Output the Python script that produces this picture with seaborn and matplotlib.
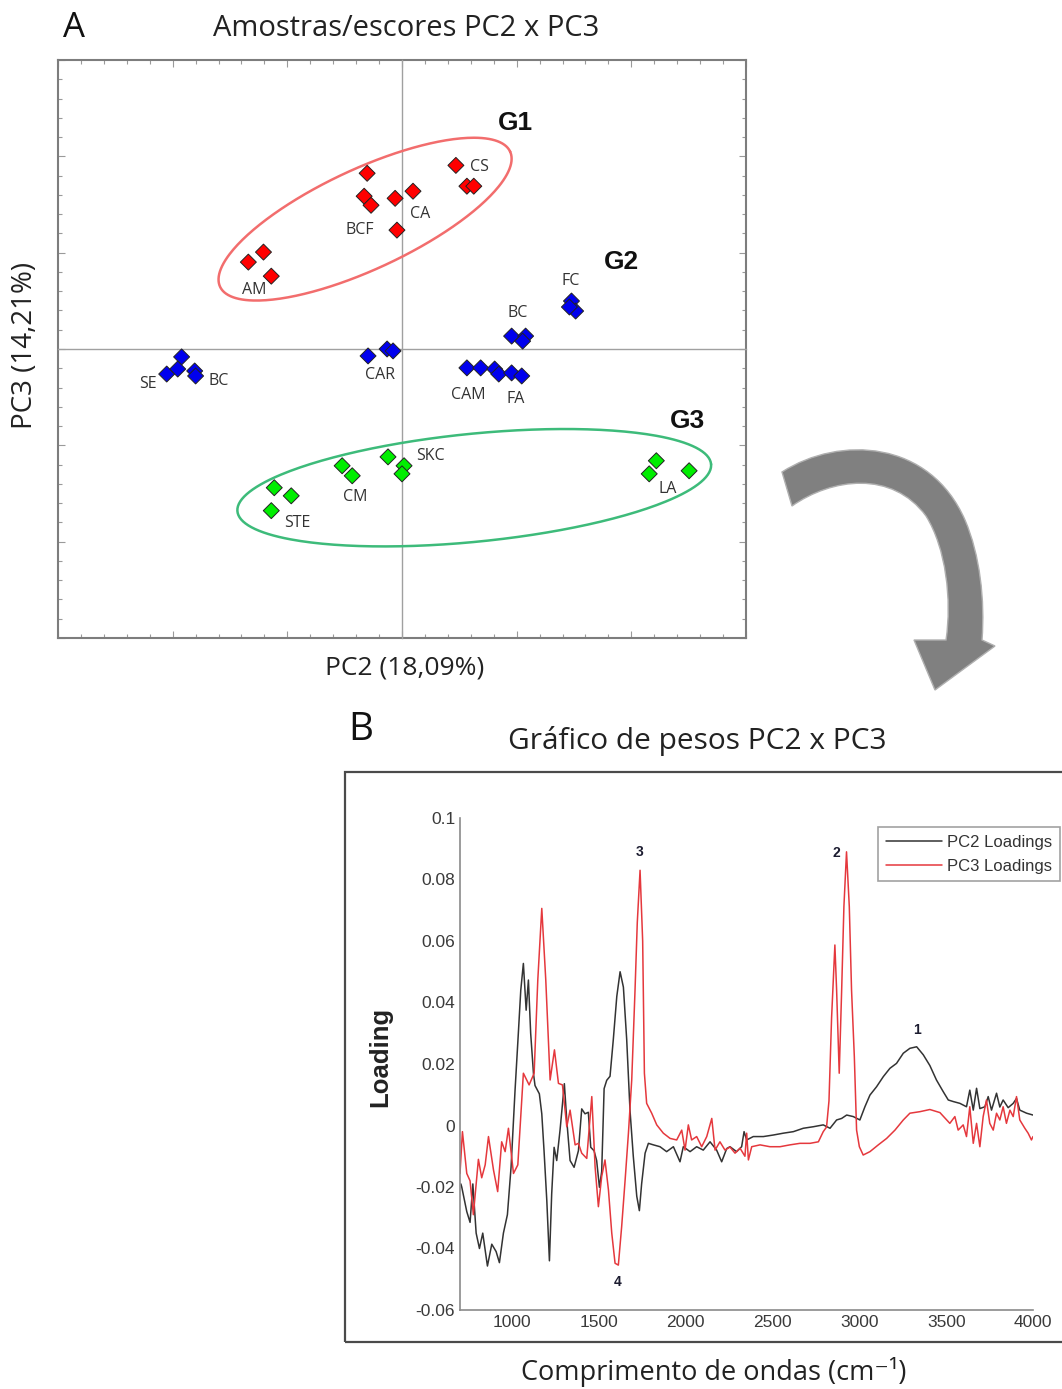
import numpy as np
import pandas as pd
import matplotlib
matplotlib.use("Agg")
import matplotlib.pyplot as plt
import seaborn as sns
from matplotlib.path import Path
from matplotlib.patches import PathPatch, Rectangle
from matplotlib.ticker import MultipleLocator
from matplotlib.lines import Line2D

sns.set_style("white")
plt.rcParams['font.family'] = ['Open Sans', 'DejaVu Sans']

# ---------------- Panel A data (scores) ----------------
g1_pc2 = [-1.52, -1.65, -1.35, -0.30, 0.48, -0.22, -6.70, -6.04, -5.70, 2.35, 2.83, 3.13]
g1_pc3 = [9.12, 7.93, 7.46, 7.82, 8.19, 6.17, 4.51, 5.03, 3.78, 9.53, 8.45, 8.45]
g2_pc2 = [4.78, 5.39, 5.26, 7.39, 7.57, 7.30, 2.83, 3.43, 4.04, 4.22, 4.78, 5.22,
          -9.61, -10.26, -9.78, -9.04, -9.00, -1.48, -0.65, -0.39]
g2_pc3 = [0.67, 0.67, 0.41, 2.49, 1.97, 2.18, -0.98, -0.98, -1.04, -1.30, -1.24, -1.40,
          -0.41, -1.30, -1.04, -1.14, -1.40, -0.36, 0.0, -0.10]
g3_pc2 = [-5.57, -4.83, -5.70, -2.61, -2.17, -0.61, 0.09, 0.0, 11.09, 10.78, 12.52]
g3_pc3 = [-7.20, -7.62, -8.39, -6.06, -6.58, -5.60, -6.06, -6.48, -5.80, -6.48, -6.32]

sample_labels = ["CS", "CA", "BCF", "AM", "FC", "BC", "CAM", "FA", "SE", "BC", "CAR",
                 "SKC", "CM", "STE", "LA"]
label_pc2 = [3.39, 0.78, -1.83, -6.43, 7.35, 5.04, 2.87, 4.96, -11.09, -8.0, -0.96,
             1.26, -2.04, -4.57, 11.57]
label_pc3 = [9.43, 6.99, 6.17, 3.06, 3.52, 1.87, -2.38, -2.59, -1.81, -1.66, -1.35,
             -5.54, -7.67, -9.02, -7.25]
group_names = ["G1", "G2", "G3"]
group_pc2 = [4.96, 9.57, 12.43]
group_pc3 = [11.71, 4.51, -3.73]

# ---------------- Panel B data (loadings) ----------------
pc3_wn = [700, 714, 739, 758, 777, 806, 825, 845, 864, 893, 917, 940, 960, 979, 1008, 1033,
          1065, 1098, 1127, 1148, 1171, 1194, 1219, 1244, 1267, 1290, 1315, 1334, 1363, 1382,
          1401, 1430, 1459, 1478, 1497, 1516, 1535, 1555, 1574, 1593, 1612, 1631, 1651, 1670,
          1689, 1708, 1721, 1737, 1752, 1762, 1775, 1804, 1833, 1871, 1910, 1948, 1977, 1996,
          2015, 2034, 2063, 2092, 2121, 2150, 2169, 2197, 2226, 2255, 2284, 2313, 2341, 2351,
          2361, 2380, 2428, 2485, 2543, 2600, 2658, 2716, 2764, 2792, 2811, 2825, 2840, 2850,
          2859, 2869, 2884, 2898, 2911, 2926, 2942, 2955, 2971, 2984, 3000, 3022, 3061, 3109,
          3157, 3205, 3253, 3291, 3349, 3406, 3464, 3521, 3550, 3569, 3598, 3617, 3636, 3656,
          3675, 3694, 3713, 3732, 3751, 3771, 3790, 3809, 3828, 3847, 3867, 3886, 3905, 3924,
          3953, 3972, 3991, 4000]
pc3_val = [-0.0156, -0.0020, -0.0156, -0.0180, -0.0290, -0.0110, -0.0170, -0.0128, -0.0036,
           -0.0145, -0.0215, -0.0053, -0.0085, -0.0009, -0.0156, -0.0128, 0.0170, 0.0132,
           0.0170, 0.0473, 0.0706, 0.0473, 0.0148, 0.0246, 0.0137, 0.0132, -0.0004, 0.0050,
           -0.0063, -0.0058, -0.0090, -0.0107, 0.0094, -0.0134, -0.0264, -0.0166, -0.0112,
           -0.0210, -0.0350, -0.0448, -0.0454, -0.0329, -0.0177, -0.0025, 0.0148, 0.0440,
           0.0660, 0.0830, 0.0600, 0.0170, 0.0072, 0.0040, 0.0002, -0.0025, -0.0042, -0.0047,
           -0.0015, -0.0080, 0.0002, -0.0047, -0.0036, -0.0069, -0.0036, 0.0023, -0.0080,
           -0.0053, -0.0080, -0.0070, -0.0090, -0.0074, -0.0100, -0.0025, -0.0112, -0.0069,
           -0.0063, -0.0069, -0.0069, -0.0063, -0.0058, -0.0058, -0.0053, -0.0020, -0.0005,
           0.0080, 0.0350, 0.0473, 0.0587, 0.0440, 0.0170, 0.0440, 0.0712, 0.0890, 0.0712,
           0.0440, 0.0224, -0.0015, -0.0069, -0.0096, -0.0085, -0.0063, -0.0042, -0.0015,
           0.0018, 0.0040, 0.0045, 0.0052, 0.0042, 0.0007, 0.0029, -0.0015, 0.0002, -0.0036,
           0.0061, -0.0058, 0.0007, -0.0069, 0.0029, 0.0083, 0.0007, -0.0015, 0.0040, 0.0018,
           0.0061, 0.0007, 0.0050, 0.0029, 0.0094, 0.0018, -0.0009, -0.0025, -0.0047, -0.0036]

pc2_wn = [705, 710, 739, 758, 774, 793, 812, 831, 858, 883, 908, 927, 950, 973, 994, 1017,
          1036, 1050, 1065, 1081, 1094, 1107, 1123, 1132, 1157, 1171, 1184, 1200, 1215, 1228,
          1242, 1257, 1276, 1301, 1315, 1334, 1357, 1382, 1401, 1420, 1439, 1453, 1472, 1487,
          1503, 1516, 1530, 1545, 1564, 1583, 1603, 1622, 1641, 1660, 1679, 1698, 1718, 1733,
          1746, 1766, 1785, 1814, 1852, 1890, 1929, 1967, 1986, 2025, 2063, 2101, 2140, 2178,
          2207, 2236, 2255, 2293, 2322, 2336, 2351, 2389, 2447, 2504, 2562, 2620, 2677, 2735,
          2792, 2831, 2869, 2898, 2927, 2965, 3003, 3032, 3061, 3099, 3138, 3176, 3214, 3253,
          3291, 3330, 3368, 3406, 3444, 3483, 3512, 3540, 3579, 3617, 3636, 3656, 3675, 3694,
          3723, 3742, 3761, 3790, 3809, 3828, 3857, 3886, 3905, 3924, 3963, 4000]
pc2_val = [-0.0190, -0.0200, -0.0280, -0.0315, -0.0190, -0.0350, -0.0400, -0.0350, -0.0457,
           -0.0386, -0.0410, -0.0446, -0.0350, -0.0290, -0.0136, 0.0114, 0.0300, 0.0440,
           0.0527, 0.0375, 0.0473, 0.0300, 0.0170, 0.0130, 0.0103, 0.0038, -0.0082, -0.0245,
           -0.0440, -0.0223, -0.0071, -0.0114, -0.0016, 0.0136, 0.0016, -0.0114, -0.0136,
           -0.0082, 0.0054, 0.0038, 0.0043, -0.0071, -0.0082, -0.0114, -0.0201, -0.0150,
           0.0120, 0.0147, 0.0160, 0.0280, 0.0420, 0.0500, 0.0450, 0.0280, 0.0050, -0.0100,
           -0.0230, -0.0277, -0.0190, -0.0090, -0.0058, -0.0063, -0.0069, -0.0085, -0.0069,
           -0.0118, -0.0069, -0.0085, -0.0069, -0.0080, -0.0053, -0.0080, -0.0118, -0.0075,
           -0.0069, -0.0085, -0.0069, -0.0020, -0.0047, -0.0036, -0.0036, -0.0031, -0.0025,
           -0.0020, -0.0009, -0.0004, 0.0002, -0.0009, 0.0018, 0.0023, 0.0034, 0.0029, 0.0018,
           0.0061, 0.0099, 0.0126, 0.0159, 0.0186, 0.0202, 0.0235, 0.0251, 0.0256, 0.0230,
           0.0195, 0.0148, 0.0110, 0.0083, 0.0078, 0.0072, 0.0061, 0.0115, 0.0050, 0.0121,
           0.0055, 0.0061, 0.0094, 0.0050, 0.0105, 0.0060, 0.0083, 0.0058, 0.0072, 0.0088,
           0.0050, 0.0040, 0.0034]

peak_labels = ["1", "2", "3", "4"]
peak_wn = [3330, 2870, 1735, 1606]
peak_y = [0.0310, 0.0885, 0.0890, -0.0510]

# ---------------- figure ----------------
W, H = 1062, 1389
fig = plt.figure(figsize=(W / 100, H / 100), dpi=100)


def fx(x):
    return x / W


def fy(y):
    return 1 - y / H


# ---- Panel A ----
rectA = [fx(58), fy(638), fx(746) - fx(58), fy(60) - fy(638)]
axF = fig.add_axes(rectA, zorder=0)
axF.set_xlim(-15, 15)
axF.set_ylim(-15, 15)
axF.xaxis.set_major_locator(MultipleLocator(5))
axF.xaxis.set_minor_locator(MultipleLocator(1))
axF.yaxis.set_major_locator(MultipleLocator(5))
axF.yaxis.set_minor_locator(MultipleLocator(1))
axF.tick_params(which='both', direction='in', top=True, right=True, bottom=True, left=True,
                labelbottom=False, labelleft=False, color='#9a9a9a', width=0.8)
axF.tick_params(which='major', length=5)
axF.tick_params(which='minor', length=3)
for s in axF.spines.values():
    s.set_color('#7d7d7d')
    s.set_linewidth(1.5)
axF.set_facecolor('white')

axA = fig.add_axes(rectA, zorder=1)
axA.patch.set_alpha(0)
dfA = pd.DataFrame({
    'pc2': g1_pc2 + g2_pc2 + g3_pc2,
    'pc3': g1_pc3 + g2_pc3 + g3_pc3,
    'grp': ['G1'] * len(g1_pc2) + ['G2'] * len(g2_pc2) + ['G3'] * len(g3_pc2),
})
sns.scatterplot(data=dfA, x='pc2', y='pc3', hue='grp',
                palette={'G1': '#ff0000', 'G2': '#0000ee', 'G3': '#00ee00'},
                marker='D', s=66, edgecolor='#222222', linewidth=0.7, legend=False,
                ax=axA, zorder=4)
axA.set_xlim(-15, 15)
axA.set_ylim(-15, 15)
axA.spines['left'].set_position('zero')
axA.spines['bottom'].set_position('zero')
axA.spines['top'].set_visible(False)
axA.spines['right'].set_visible(False)
for k in ['left', 'bottom']:
    axA.spines[k].set_color('#a0a0a0')
    axA.spines[k].set_linewidth(1.0)
axA.xaxis.set_major_locator(MultipleLocator(5))
axA.xaxis.set_minor_locator(MultipleLocator(1))
axA.yaxis.set_major_locator(MultipleLocator(5))
axA.yaxis.set_minor_locator(MultipleLocator(1))
axA.tick_params(which='both', direction='inout', labelbottom=False, labelleft=False,
                color='#a0a0a0', width=0.8)
axA.tick_params(which='major', length=8)
axA.tick_params(which='minor', length=5)
axA.set_xlabel('')
axA.set_ylabel('')

# ellipses (pixel-space shape -> data space)
pxu_x = (746 - 58) / 30.0
pxu_y = (638 - 60) / 30.0
t = np.linspace(0, 2 * np.pi, 300)
for (cx, cy, a, b, ang, col) in [(-1.61, 6.74, 160, 50, 25, '#f26d6d'),
                                  (3.15, -7.20, 238, 54, 5.7, '#3dbb7a')]:
    th = np.deg2rad(ang)
    dx = a * np.cos(t) * np.cos(th) - b * np.sin(t) * np.sin(th)
    dy = a * np.cos(t) * np.sin(th) + b * np.sin(t) * np.cos(th)
    axA.plot(cx + dx / pxu_x, cy + dy / pxu_y, color=col, lw=1.8, zorder=3)

for lab, xv, yv in zip(sample_labels, label_pc2, label_pc3):
    axA.text(xv, yv, lab, ha='center', va='center', fontsize=11.5, color='#333333', zorder=5)
for lab, xv, yv in zip(group_names, group_pc2, group_pc3):
    axA.text(xv, yv, lab, ha='center', va='center', fontsize=19, fontweight='bold',
             family=['Liberation Sans', 'DejaVu Sans'], color='#111111', zorder=5)

fig.text(fx(74), fy(28), 'A', fontsize=25, ha='center', va='center', color='#111111')
fig.text(fx(406), fy(28), 'Amostras/escores PC2 x PC3', fontsize=21, ha='center',
         va='center', color='#222222')
fig.text(fx(405), fy(668), 'PC2 (18,09%)', fontsize=19, ha='center', va='center',
         color='#222222')
fig.text(fx(25), fy(345), 'PC3 (14,21%)', fontsize=20, ha='center', va='center',
         rotation=90, color='#222222')

# ---- Panel B ----
fig.patches.append(Rectangle((fx(345), fy(1342)), fx(1075) - fx(345), fy(772) - fy(1342),
                             transform=fig.transFigure, fill=False, edgecolor='#4a4a4a',
                             linewidth=1.6, zorder=0))
rectB = [fx(460), fy(1310), fx(1033) - fx(460), fy(818) - fy(1310)]
axB = fig.add_axes(rectB)
axB.patch.set_alpha(0)
dfB = pd.DataFrame({
    'wn': pc2_wn + pc3_wn,
    'loading': pc2_val + pc3_val,
    'serie': ['PC2 Loadings'] * len(pc2_wn) + ['PC3 Loadings'] * len(pc3_wn),
})
palB = {'PC2 Loadings': '#333333', 'PC3 Loadings': '#e5383d'}
sns.lineplot(data=dfB, x='wn', y='loading', hue='serie', palette=palB, estimator=None,
             sort=True, linewidth=1.1, legend=False, ax=axB)
axB.set_xlim(700, 4000)
axB.set_ylim(-0.06, 0.1)
axB.set_xticks([1000, 1500, 2000, 2500, 3000, 3500, 4000])
yt = [-0.06, -0.04, -0.02, 0, 0.02, 0.04, 0.06, 0.08, 0.1]
axB.set_yticks(yt)
axB.set_yticklabels(['-0.06', '-0.04', '-0.02', '0', '0.02', '0.04', '0.06', '0.08', '0.1'])
axB.tick_params(direction='in', length=4, color='#777777', labelsize=12.5,
                labelcolor='#3a3a3a')
for lbl in axB.get_xticklabels() + axB.get_yticklabels():
    lbl.set_family(['Liberation Sans', 'DejaVu Sans'])
axB.spines['top'].set_visible(False)
axB.spines['right'].set_visible(False)
for k in ['left', 'bottom']:
    axB.spines[k].set_color('#8a8a8a')
    axB.spines[k].set_linewidth(1.2)
axB.set_xlabel('')
axB.set_ylabel('')
for lab, xv, yv in zip(peak_labels, peak_wn, peak_y):
    axB.text(xv, yv, lab, ha='center', va='center', fontsize=10, fontweight='bold',
             family=['Liberation Sans', 'DejaVu Sans'], color='#1c1c30')

handles = [Line2D([], [], color=palB[k], lw=1.1) for k in palB]
leg = fig.legend(handles, list(palB.keys()), loc='upper right',
                 bbox_to_anchor=(fx(1060), fy(827)), fontsize=12, frameon=True,
                 fancybox=False, edgecolor='#8a8a8a', handlelength=3.4, borderpad=0.45,
                 labelspacing=0.55, handletextpad=0.3, borderaxespad=0)
leg.get_frame().set_linewidth(1.2)
for txt in leg.get_texts():
    txt.set_family(['Liberation Sans', 'DejaVu Sans'])
    txt.set_color('#333333')

fig.text(fx(361), fy(730), 'B', fontsize=28, ha='center', va='center', color='#111111')
fig.text(fx(697), fy(741), 'Gráfico de pesos PC2 x PC3', fontsize=21.5, ha='center',
         va='center', color='#222222')
fig.text(fx(714), fy(1372), 'Comprimento de ondas (cm\u207b\u00b9)', fontsize=19.5,
         ha='center', va='center', color='#222222')
fig.text(fx(380), fy(1057), 'Loading', fontsize=18.5, ha='center', va='center', rotation=90,
         fontweight='bold', family=['Liberation Sans', 'DejaVu Sans'], color='#222222')

# ---- curved arrow (decoration) ----
verts_px = [(782, 472),
            (840, 435), (930, 440), (965, 520),
            (980, 555), (985, 600), (982, 640),
            (995, 646), (935, 690), (914, 640), (946, 640),
            (952, 600), (946, 548), (926, 516),
            (892, 470), (832, 478), (792, 506),
            (782, 472)]
codes = [Path.MOVETO,
         Path.CURVE4, Path.CURVE4, Path.CURVE4,
         Path.CURVE4, Path.CURVE4, Path.CURVE4,
         Path.LINETO, Path.LINETO, Path.LINETO, Path.LINETO,
         Path.CURVE4, Path.CURVE4, Path.CURVE4,
         Path.CURVE4, Path.CURVE4, Path.CURVE4,
         Path.CLOSEPOLY]
verts = [(fx(x), fy(y)) for x, y in verts_px]
fig.patches.append(PathPatch(Path(verts, codes), transform=fig.transFigure,
                             facecolor='#808080', edgecolor='#b0b0b0', linewidth=1.0))

fig.savefig('out.png', dpi=100, facecolor='white')
